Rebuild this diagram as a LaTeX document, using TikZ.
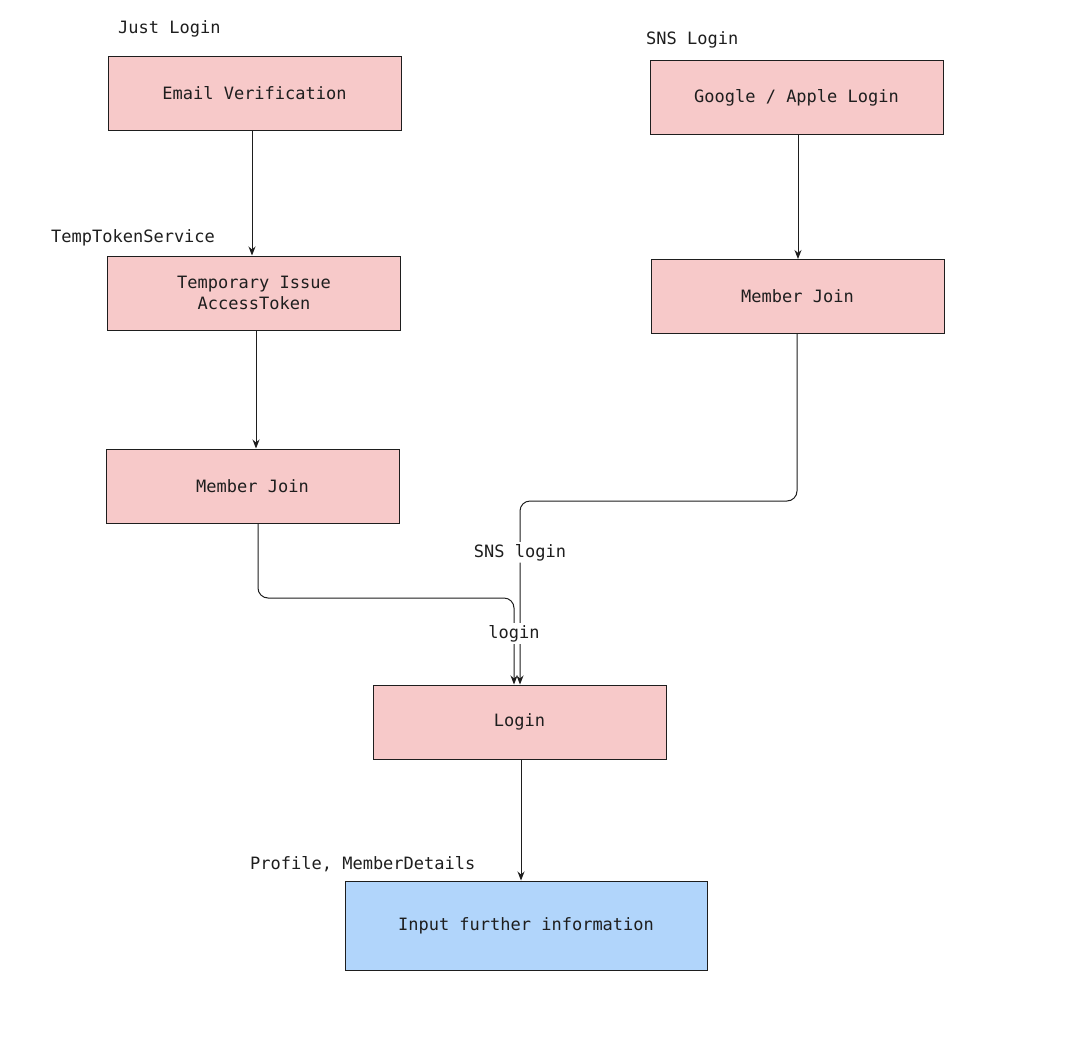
\documentclass[tikz,border=0pt]{standalone}
\usepackage{fontspec}
\setmainfont{DejaVu Sans Mono}
\usetikzlibrary{arrows.meta}
\definecolor{pinkf}{HTML}{F7C9C9}
\definecolor{bluef}{HTML}{B1D5FB}
\definecolor{ink}{HTML}{1E1E1E}
\begin{document}
\begin{tikzpicture}[x=1pt,y=-1pt,
  box/.style={draw=ink,line width=1pt,fill=pinkf,minimum width=293pt,minimum height=74pt,inner sep=0pt,font=\fontsize{17}{21}\selectfont,align=center,text=ink},
  lbl/.style={font=\fontsize{17}{21}\selectfont,text=ink,anchor=west,inner sep=0pt},
  arr/.style={draw=ink,line width=1pt,-{Stealth[length=9pt,width=7pt]},rounded corners=10pt}]
\useasboundingbox (0,0) rectangle (1082,1042);
\fill[white] (0,0) rectangle (1082,1042);
\node[box] (ev) at (254.5,93.5) {Email Verification};
\node[box] (ga) at (796.5,97.5) {Google / Apple Login};
\node[box] (tt) at (254,293) {Temporary Issue\\AccessToken};
\node[box] (mjr) at (797.5,296.5) {Member Join};
\node[box] (mjl) at (252.5,486) {Member Join};
\node[box] (lg) at (519.5,722) {Login};
\node[box,fill=bluef,minimum width=362pt,minimum height=89pt] (in) at (526,925.5) {Input further information};
\node[lbl] (t1) at (118,29) {Just Login};
\node[lbl] (t2) at (646,40) {SNS Login};
\node[lbl] (t3) at (51,238) {TempTokenService};
\node[lbl] (t4) at (250,864) {Profile, MemberDetails};
\draw[arr] (ev.south -| 252,0) -- (tt.north -| 252,0);
\draw[arr] (ga.south -| 798,0) -- (mjr.north -| 798,0);
\draw[arr] (tt.south -| 256,0) -- (mjl.north -| 256,0);
\draw[arr] (mjr.south -| 797,0) -- (797,501) -- (520,501) -- (lg.north -| 520,0)
  node[pos=0.28,fill=white,inner sep=2pt,font=\fontsize{17}{21}\selectfont,text=ink] (s1) {SNS login};
\draw[arr] (mjl.south -| 258,0) -- (258,598) -- (514,598) -- (lg.north -| 514,0)
  node[pos=0.41,fill=white,inner sep=2pt,font=\fontsize{17}{21}\selectfont,text=ink] (s2) {login};
\draw[arr] (lg.south -| 521,0) -- (in.north -| 521,0);
\end{tikzpicture}
\end{document}
